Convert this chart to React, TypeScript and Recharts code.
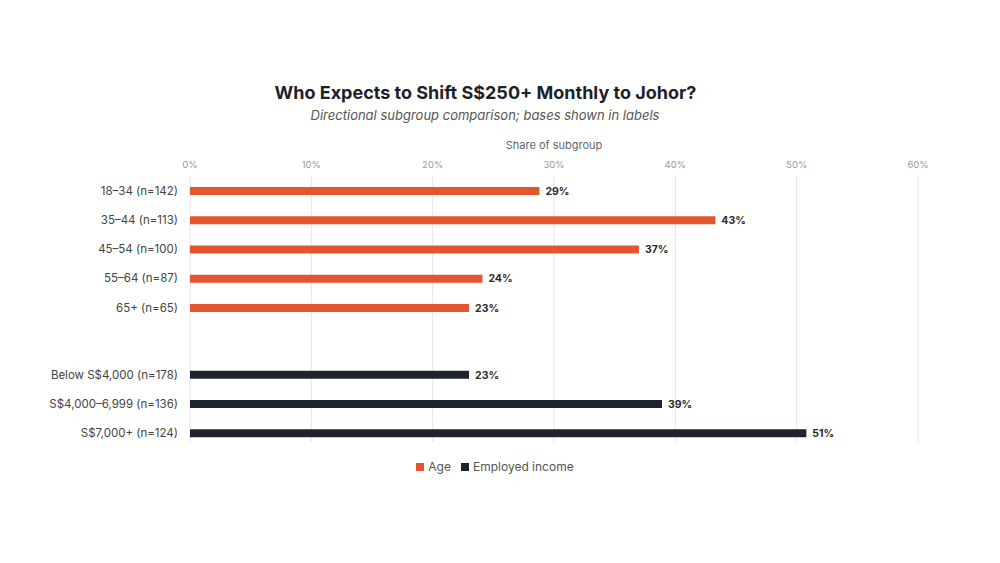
import React from 'react';
import { BarChart, Bar, XAxis, YAxis, CartesianGrid, Legend, LabelList } from 'recharts';

const ageLabels = ['18–34 (n=142)', '35–44 (n=113)', '45–54 (n=100)', '55–64 (n=87)', '65+ (n=65)'];
const ageShare = [28.8, 43.3, 37.0, 24.1, 23.0];
const incomeLabels = ['Below S$4,000 (n=178)', 'S$4,000–6,999 (n=136)', 'S$7,000+ (n=124)'];
const incomeShare = [23.0, 38.9, 50.8];
const xTicks = [0, 10, 20, 30, 40, 50, 60];

// distance (in rows) between the last age row and the first income row
const GROUP_GAP = 2.29;

const rows = [
  ...ageLabels.map((label, i) => ({ label, pos: i, age: ageShare[i] })),
  ...incomeLabels.map((label, i) => ({
    label,
    pos: ageLabels.length - 1 + GROUP_GAP + i,
    income: incomeShare[i],
  })),
];
const rowTicks = rows.map((r) => r.pos);
const labelAt = (v: number) => rows.find((r) => Math.abs(r.pos - v) < 0.001)?.label ?? '';

const ORANGE = '#e4552b';
const DARK = '#1f2330';

const pct = (v: any) => (v === undefined || v === null ? '' : `${Math.round(Number(v))}%`);

export default function App() {
  return (
    <div
      style={{
        position: 'fixed',
        top: 0,
        left: 0,
        width: 1000,
        height: 563,
        background: '#fff',
        fontFamily: 'Inter, "Noto Sans", sans-serif',
      }}
    >
      <div
        style={{
          position: 'absolute',
          top: 82,
          left: 0,
          width: 971,
          textAlign: 'center',
          fontSize: 18,
          fontWeight: 700,
          color: '#1d1f2a',
        }}
      >
        Who Expects to Shift S$250+ Monthly to Johor?
      </div>
      <div
        style={{
          position: 'absolute',
          top: 107,
          left: 0,
          width: 970,
          textAlign: 'center',
          fontSize: 13,
          fontStyle: 'italic',
          color: '#555',
        }}
      >
        Directional subgroup comparison; bases shown in labels
      </div>
      <div
        style={{
          position: 'absolute',
          top: 138,
          left: 190,
          width: 728,
          textAlign: 'center',
          fontSize: 11,
          color: '#666',
        }}
      >
        Share of subgroup
      </div>
      <BarChart
        width={1000}
        height={563}
        data={rows}
        layout="vertical"
        margin={{ top: 146, right: 82, bottom: 101, left: 10 }}
      >
        <CartesianGrid horizontal={false} stroke="#e6e6e6" />
        <XAxis
          type="number"
          orientation="top"
          domain={[0, 60]}
          ticks={xTicks}
          tickFormatter={(v) => `${v}%`}
          axisLine={false}
          tickLine={false}
          height={30}
          tick={{ fontSize: 9.5, fill: '#999' }}
        />
        <YAxis
          type="number"
          dataKey="pos"
          domain={[-0.5, 8.6]}
          ticks={rowTicks}
          interval={0}
          tickFormatter={labelAt}
          axisLine={false}
          tickLine={false}
          tickMargin={6}
          width={180}
          tick={{ fontSize: 11.5, fill: '#444' }}
        />
        <Legend
          iconType="square"
          iconSize={8}
          wrapperStyle={{ top: 455, left: 6, width: 988 }}
          formatter={(value) => <span style={{ color: '#555', fontSize: 12 }}>{value}</span>}
        />
        <Bar dataKey="age" name="Age" stackId="s" fill={ORANGE} barSize={8} isAnimationActive={false}>
          <LabelList dataKey="age" position="right" offset={6} formatter={pct} fill="#2a2a2a" fontSize={10.5} fontWeight={700} />
        </Bar>
        <Bar dataKey="income" name="Employed income" stackId="s" fill={DARK} barSize={8} isAnimationActive={false}>
          <LabelList dataKey="income" position="right" offset={6} formatter={pct} fill="#2a2a2a" fontSize={10.5} fontWeight={700} />
        </Bar>
      </BarChart>
    </div>
  );
}
